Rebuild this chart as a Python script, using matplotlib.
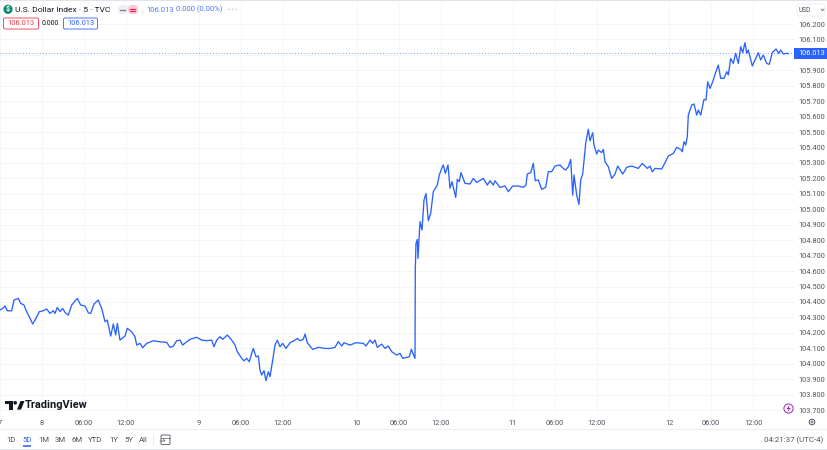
#!/usr/bin/env python3

import matplotlib
matplotlib.use("Agg")
import matplotlib.pyplot as plt
from matplotlib.patches import Circle, FancyBboxPatch, Polygon, Rectangle

W, H = 828, 450
IMAGE_DPI = 100
FONT = "Roboto"
BLUE = "#2962ff"
RED = "#f23645"
GRID = "#f5f6f8"
GREY = "#50535e"
DARK = "#131722"

plt.rcParams["font.family"] = FONT

# time axis unit: 7 steps per trading hour, 0 is midnight on the 8th
times = [
    -42, -39.3, -37, -34.7, -30.3, -28, -23.7, -21.3, -18, -15.3, -12, -9.3, -6, -2.7, 1.3, 4.7, 8, 11.3, 13, 15.3,
    18, 20.7, 23, 26.3, 29.7, 35.3, 38.7, 43, 46.3, 48.7, 52, 56.3, 59.7, 63, 65.3, 68.7, 71.3, 73.7, 75.3, 78,
    83, 85.3, 89.7, 93, 94.7, 98, 100.7, 104.7, 111.3, 118, 124.7, 128, 131.3, 134.7, 138, 140.7, 144.7, 148, 154.7, 159.7,
    164.7, 169.7, 172, 174.7, 178, 180.7, 185.3, 189.7, 193, 195.3, 199.7, 202, 204.7, 207.3, 209.7, 211.3, 214, 216.3, 218, 219.7,
    222, 224, 226.3, 228, 230.7, 233, 235.3, 238, 240.7, 244, 248, 252, 255.3, 258, 261.3, 263, 265.3, 270.7, 276.3, 283,
    288, 293, 296.3, 299.7, 302, 308, 314, 321.3, 324, 328, 330.7, 333, 335.3, 339.7, 343, 346.3, 349.7, 354.7, 358, 360.7,
    364.7, 367.3, 369.3, 373, 373.3, 374, 375.3, 376, 378, 380, 382, 384, 386.3, 388.7, 391.3, 395.3, 397.3, 399.7, 401.3, 403.3,
    406, 408, 410, 413.7, 415.3, 417.3, 419, 423, 428, 431.3, 434.7, 441.3, 445.3, 448, 451.3, 453, 458, 463, 466.3, 470.7,
    476.3, 481.3, 484, 485.3, 488.7, 491.3, 493.3, 496.3, 499.7, 503.7, 506.3, 509.7, 513, 518, 521.3, 523.7, 526.3, 528.7, 530.7, 532,
    534.7, 537, 538.7, 540.7, 543, 543.7, 546.3, 548, 550.7, 552, 554.7, 556.3, 559.7, 561.3, 563, 566.3, 569.7, 573, 575.7, 580.7,
    584.7, 589.7, 596.3, 600.3, 605.3, 608, 610.3, 613, 619.7, 623, 626.3, 631.3, 634.7, 638.7, 640.3, 642, 643.7, 645.3, 646.3, 649.7,
    652, 654.7, 656.3, 658.7, 662, 664, 665.7, 668, 670.7, 673.3, 676.3, 678.7, 682, 684.7, 686.3, 688.7, 691.3, 693.7, 696.3, 698.7,
    700.7, 703, 704.7, 706.3, 710.3, 713, 716.3, 718.7, 721.3, 724.7, 727.3, 730.3, 734, 736.7, 738.7, 741.3, 744.7, 746.3,
]
prices = [
    104.348, 104.358, 104.374, 104.343, 104.343, 104.412, 104.423, 104.391, 104.380, 104.337, 104.294, 104.257, 104.294, 104.337, 104.343, 104.354, 104.326, 104.343, 104.326, 104.365,
    104.337, 104.358, 104.332, 104.315, 104.380, 104.423, 104.380, 104.374, 104.330, 104.326, 104.387, 104.412, 104.358, 104.272, 104.283, 104.179, 104.257, 104.186, 104.261, 104.153,
    104.179, 104.229, 104.207, 104.175, 104.121, 104.132, 104.104, 104.132, 104.149, 104.142, 104.138, 104.106, 104.114, 104.149, 104.153, 104.121, 104.142, 104.158, 104.171, 104.153,
    104.149, 104.153, 104.110, 104.153, 104.175, 104.158, 104.186, 104.153, 104.121, 104.078, 104.035, 104.019, 104.035, 104.013, 104.067, 104.099, 104.045, 104.050, 103.959, 103.927,
    103.955, 103.890, 103.948, 103.916, 104.024, 104.121, 104.153, 104.110, 104.132, 104.099, 104.136, 104.149, 104.164, 104.149, 104.158, 104.192, 104.136, 104.093, 104.106, 104.099,
    104.099, 104.106, 104.143, 104.115, 104.136, 104.121, 104.136, 104.132, 104.115, 104.153, 104.132, 104.153, 104.106, 104.127, 104.099, 104.115, 104.078, 104.056, 104.067, 104.035,
    104.041, 104.045, 104.093, 104.035, 104.611, 104.779, 104.805, 104.682, 104.920, 104.866, 105.060, 105.103, 104.926, 104.974, 105.114, 105.157, 105.222, 105.265, 105.287, 105.233,
    105.287, 105.136, 105.179, 105.077, 105.194, 105.179, 105.237, 105.168, 105.164, 105.200, 105.174, 105.200, 105.157, 105.185, 105.157, 105.185, 105.142, 105.151, 105.114, 105.151,
    105.151, 105.142, 105.157, 105.229, 105.237, 105.298, 105.185, 105.190, 105.129, 105.142, 105.244, 105.244, 105.280, 105.287, 105.265, 105.254, 105.276, 105.323, 105.092, 105.222,
    105.092, 105.032, 105.190, 105.229, 105.384, 105.427, 105.518, 105.444, 105.496, 105.416, 105.358, 105.384, 105.367, 105.388, 105.308, 105.276, 105.200, 105.228, 105.280, 105.228,
    105.272, 105.280, 105.265, 105.297, 105.265, 105.280, 105.243, 105.265, 105.261, 105.302, 105.345, 105.362, 105.401, 105.388, 105.373, 105.438, 105.416, 105.470, 105.610, 105.675,
    105.682, 105.610, 105.643, 105.610, 105.712, 105.708, 105.826, 105.783, 105.826, 105.880, 105.934, 105.848, 105.848, 105.891, 105.870, 105.977, 105.945, 106.010, 105.945, 106.053,
    106.014, 106.079, 106.010, 106.031, 105.928, 105.967, 106.014, 105.967, 105.999, 105.945, 105.939, 106.014, 106.038, 106.010, 106.031, 106.006, 106.010, 106.008,
]
last_price = 106.013

x_ticks = [-42, 0, 42, 84, 157, 199, 241, 314.7, 356.7, 398.7, 470.7, 512.7, 555, 627.3, 669, 711.5]
x_labels = ["7", "8", "06:00", "12:00", "9", "06:00", "12:00", "10", "06:00", "12:00", "11", "06:00", "12:00", "12", "06:00", "12:00"]
y_ticks = [103.7 + 0.1 * i for i in range(26)]
range_labels = ["1D", "5D", "1M", "3M", "6M", "YTD", "1Y", "5Y", "All"]
range_x = [11, 27, 43.5, 60, 77, 95, 114, 128.5, 143]


def px_box(left, top, right, bottom):
    return [left / W, 1 - bottom / H, (right - left) / W, (bottom - top) / H]


def draw_chart(fig):
    ax = fig.add_axes(px_box(0, 3, 795, 415))
    ax.set_xlim(-42, 753)
    ax.set_ylim(103.668, 106.336)
    ax.set_xticks(x_ticks, x_labels)
    # the 106.000 label sits under the last price tag
    y_labels = ["" if abs(v - 106) < 0.01 else f"{v:.3f}" for v in y_ticks]
    ax.set_yticks(y_ticks, y_labels)
    ax.yaxis.tick_right()
    ax.tick_params(length=0, labelsize=5.3, labelcolor=GREY)
    ax.tick_params(axis="x", pad=3.6)
    ax.tick_params(axis="y", pad=2.6)
    ax.grid(True, color=GRID, linewidth=0.7)
    ax.set_axisbelow(True)
    for spine in ax.spines.values():
        spine.set_visible(False)
    ax.plot(times, prices, color=BLUE, linewidth=0.95, solid_joinstyle="round")
    ax.axhline(last_price, color=BLUE, linewidth=0.6, linestyle=(0, (1, 2.4)), alpha=0.8)


def draw_box(ui, left, top, right, bottom, edge, face="white", radius=1.5, lw=0.6):
    ui.add_patch(FancyBboxPatch((left, top), right - left, bottom - top,
                                boxstyle=f"round,pad=0,rounding_size={radius}",
                                edgecolor=edge, facecolor=face, linewidth=lw))


def draw_ui(fig):
    ui = fig.add_axes([0, 0, 1, 1], facecolor="none")
    ui.set_xlim(0, W)
    ui.set_ylim(H, 0)
    ui.axis("off")

    # frame lines
    ui.add_patch(Rectangle((0, 0), W, 1.2, color="#e0e3eb", linewidth=0))
    ui.plot([0, W], [429, 429], color="#eceef2", linewidth=0.8)
    ui.plot([0, W], [449.3, 449.3], color="#e0e3eb", linewidth=0.8)

    # header
    ui.add_patch(Circle((8, 9.3), 4.6, color="#0b8a70", linewidth=0))
    ui.text(8, 9.5, "$", color="white", fontsize=5, ha="center", va="center", fontweight="bold")
    ui.text(15, 9.5, "U.S. Dollar Index · 5 · TVC", color=DARK, fontsize=6.1, va="center")
    ui.add_patch(FancyBboxPatch((118, 5), 10, 9, boxstyle="round,pad=0,rounding_size=4",
                                color="#eceef1", linewidth=0))
    ui.add_patch(FancyBboxPatch((128, 5), 10, 9, boxstyle="round,pad=0,rounding_size=4",
                                color="#fbc9d3", linewidth=0))
    ui.plot([120.5, 125], [9.5, 9.5], color="#787b86", linewidth=0.9)
    ui.plot([130.5, 135], [8.5, 8.5], color="#e91e63", linewidth=0.8)
    ui.plot([130.5, 135], [10.8, 10.8], color="#e91e63", linewidth=0.8)
    ui.text(146.5, 9.5, "106.013", color=BLUE, fontsize=5.5, va="center", alpha=0.85)
    ui.text(176.5, 9.5, "0.000 (0.00%)", color=BLUE, fontsize=5.5, va="center", alpha=0.85)
    for dot_x in (229, 232.5, 236):
        ui.add_patch(Circle((dot_x, 9.3), 0.8, color="#c4c6cd", linewidth=0))

    draw_box(ui, 3.5, 18, 38.5, 29, RED)
    ui.text(21, 23.7, "106.013", color=RED, fontsize=5.4, ha="center", va="center")
    ui.text(50.5, 23.7, "0.000", color=DARK, fontsize=5, ha="center", va="center")
    draw_box(ui, 63.5, 18, 97.5, 29, BLUE)
    ui.text(80.5, 23.7, "106.013", color=BLUE, fontsize=5.4, ha="center", va="center")

    # price scale furniture
    draw_box(ui, 797, 4, 825, 16, "#eceef2", radius=2)
    ui.text(799, 10, "USD", color=GREY, fontsize=4.8, va="center")
    ui.plot([821, 822.5, 824], [9, 10.7, 9], color=GREY, linewidth=0.5)
    ui.add_patch(Rectangle((794, 48), 34, 10.5, color=BLUE, linewidth=0))
    ui.text(811.5, 53.4, f"{last_price:.3f}", color="white", fontsize=5.3, ha="center", va="center")

    ui.add_patch(Circle((788.5, 408.5), 4.6, edgecolor="#9c27b0", facecolor="white", linewidth=0.7))
    ui.add_patch(Polygon([(789.5, 405), (786.5, 409), (788.5, 409), (787.5, 412), (790.8, 408), (788.8, 408)],
                         color="#9c27b0", linewidth=0))
    ui.add_patch(Circle((812, 422), 2.8, edgecolor=GREY, facecolor="white", linewidth=0.7))
    ui.add_patch(Circle((812, 422), 1, edgecolor=GREY, facecolor="white", linewidth=0.5))

    # TradingView mark
    ui.add_patch(Rectangle((5, 401), 8, 3.2, color=DARK, linewidth=0))
    ui.add_patch(Rectangle((9, 401), 4, 8.6, color=DARK, linewidth=0))
    ui.add_patch(Circle((15.2, 402.8), 1.8, color=DARK, linewidth=0))
    ui.add_patch(Polygon([(17, 409.6), (21, 409.6), (24.5, 401), (20.5, 401)], color=DARK, linewidth=0))
    ui.text(25, 404.8, "TradingView", color=DARK, fontsize=7.9, va="center", fontweight="bold")

    # range bar
    for label, x in zip(range_labels, range_x):
        color = BLUE if label == "5D" else GREY
        ui.text(x, 440, label, color=color, fontsize=5.6, ha="center", va="center")
    ui.add_patch(Rectangle((23, 445), 8, 1.5, color=BLUE, linewidth=0, alpha=0.8))
    ui.plot([153, 153], [434, 445], color="#eceef2", linewidth=0.7)
    ui.add_patch(FancyBboxPatch((161, 435), 9, 9.5, boxstyle="round,pad=0,rounding_size=1",
                                edgecolor=GREY, facecolor="none", linewidth=0.6))
    ui.plot([161, 170], [438, 438], color=GREY, linewidth=0.5)
    ui.plot([160, 165, 163.5], [441, 441, 439.5], color=GREY, linewidth=0.5)
    ui.text(823, 440, "04:21:37 (UTC-4)", color=GREY, fontsize=5.7, ha="right", va="center")


def main():
    fig = plt.figure(figsize=(W / IMAGE_DPI, H / IMAGE_DPI), dpi=IMAGE_DPI, facecolor="white")
    draw_chart(fig)
    draw_ui(fig)
    fig.savefig("out.png", dpi=IMAGE_DPI)


if __name__ == "__main__":
    main()
